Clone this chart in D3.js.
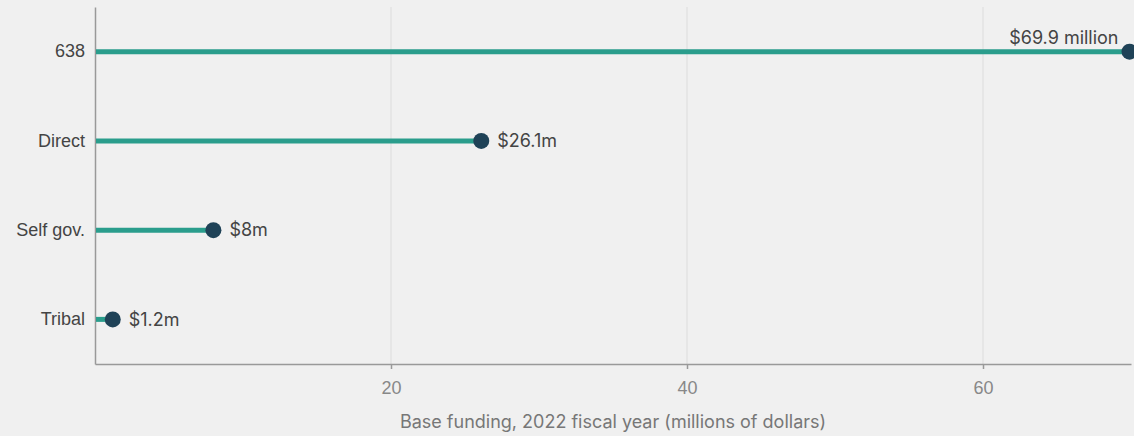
<!DOCTYPE html>
<html>
<head>
<meta charset="utf-8">
<script src="https://cdn.jsdelivr.net/npm/d3@7"></script>
<style>
  html, body { margin: 0; padding: 0; background: #f0f0f0; }
  svg { display: block; font-family: Inter, "Open Sans", sans-serif; }
</style>
</head>
<body>
<svg id="chart" width="1134" height="436"></svg>
<script>
const categories = ['638', 'Direct', 'Self gov.', 'Tribal'];
const values = [69.9, 26.1, 8, 1.2];
const valueLabels = ['$69.9 million', '$26.1m', '$8m', '$1.2m'];
const xTicks = [20, 40, 60];

const svg = d3.select('#chart');
const margin = { top: 7, right: 3, bottom: 72, left: 95 };
const width = 1134 - margin.left - margin.right;
const height = 436 - margin.top - margin.bottom;

const g = svg.append('g').attr('transform', `translate(${margin.left},${margin.top})`);

const x = d3.scaleLinear().domain([0, 70]).range([0, width]);
const y = d3.scaleBand().domain(categories).range([0, height]).padding(0);

// gridlines
g.selectAll('.grid')
    .data(xTicks)
    .enter()
    .append('line')
    .attr('x1', d => x(d))
    .attr('x2', d => x(d))
    .attr('y1', 0)
    .attr('y2', height)
    .attr('stroke', '#dcdcdc')
    .attr('stroke-width', 1);

// x axis
const xAxis = g.append('g')
    .attr('transform', `translate(0,${height})`)
    .call(d3.axisBottom(x).tickValues(xTicks).tickSizeInner(5).tickSizeOuter(0).tickPadding(12));
xAxis.select('.domain').attr('stroke', '#999').attr('stroke-width', 1.5);
xAxis.selectAll('.tick line').attr('stroke', '#999').attr('stroke-width', 1.5);
xAxis.selectAll('text').attr('fill', '#888').style('font-size', '18px');

// y axis
const yAxis = g.append('g')
    .call(d3.axisLeft(y).tickSize(0).tickPadding(10));
yAxis.select('.domain').attr('stroke', '#999').attr('stroke-width', 1.5);
yAxis.selectAll('text').attr('fill', '#444').style('font-size', '18px');

// stems
g.selectAll('.stem')
    .data(values)
    .enter()
    .append('line')
    .attr('x1', 1)
    .attr('x2', d => x(d))
    .attr('y1', (d, i) => y(categories[i]) + y.bandwidth() / 2)
    .attr('y2', (d, i) => y(categories[i]) + y.bandwidth() / 2)
    .attr('stroke', '#2a9d8c')
    .attr('stroke-width', 5);

// dots
g.selectAll('.dot')
    .data(values)
    .enter()
    .append('circle')
    .attr('cx', d => x(d))
    .attr('cy', (d, i) => y(categories[i]) + y.bandwidth() / 2)
    .attr('r', 8)
    .attr('fill', '#1f4257');

// value labels
g.selectAll('.val')
    .data(values)
    .enter()
    .append('text')
    .attr('x', (d, i) => i === 0 ? x(d) - 11 : x(d) + 16)
    .attr('y', (d, i) => y(categories[i]) + y.bandwidth() / 2 + (i === 0 ? -14 : 0))
    .attr('dy', '0.35em')
    .attr('text-anchor', (d, i) => i === 0 ? 'end' : 'start')
    .attr('fill', '#444')
    .style('font-size', '18px')
    .text((d, i) => valueLabels[i]);

// axis title
svg.append('text')
    .attr('x', margin.left + width / 2)
    .attr('y', 428)
    .attr('text-anchor', 'middle')
    .attr('fill', '#777')
    .style('font-size', '18px')
    .text('Base funding, 2022 fiscal year (millions of dollars)');
</script>
</body>
</html>
